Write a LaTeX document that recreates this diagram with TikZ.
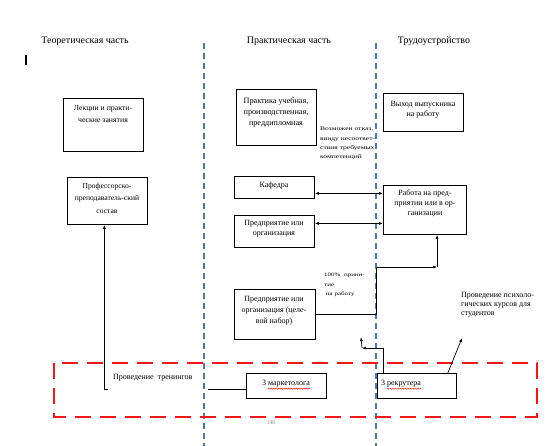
\documentclass[tikz,border=0pt]{standalone}
\usepackage{fontspec}
\setmainfont{Liberation Serif}
\newfontfamily\widefont[FakeStretch=1.35]{Liberation Serif}
\usetikzlibrary{arrows.meta,decorations.pathmorphing}
\definecolor{sepblue}{HTML}{56789E}
\definecolor{dred}{HTML}{F01818}
\definecolor{pgray}{HTML}{8A8A8A}
\begin{document}
\begin{tikzpicture}[x=1bp,y=-1bp,
  box/.style={draw, line width=0.8bp, inner sep=0, anchor=north west},
  head/.style={inner sep=0, font=\fontsize{10}{12}\selectfont},
  btxt/.style={align=center, inner sep=0, font=\fontsize{7.8}{12.5}\selectfont},
  ptxt/.style={align=center, inner sep=0, font=\fontsize{8}{10}\selectfont},
  stxt/.style={align=left, inner sep=0, font=\widefont\fontsize{5.6}{9.2}\selectfont},
  sep/.style={draw=sepblue, line width=1.2bp, dash pattern=on 6bp off 4bp},
  arr/.style={-{Latex[length=4bp,width=3bp]}, line width=0.7bp},
  darr/.style={{Latex[length=4bp,width=3bp]}-{Latex[length=4bp,width=3bp]}, line width=0.7bp},
  ln/.style={line width=0.7bp},
  squig/.style={draw=dred, line width=0.5bp, decorate, decoration={snake, amplitude=0.6bp, segment length=2.5bp}}]
\useasboundingbox (0,0) rectangle (547,446);
\fill[white] (0,0) rectangle (547,446);

% headers
\node[head] (h1) at (85,41) {Теоретическая часть};
\node[head] (h2) at (289,41) {Практическая часть};
\node[head] (h3) at (434,41) {Трудоустройство};
\draw[line width=1.3bp] (26,55) -- (26,65);

% separators
\draw[sep] (204,43) -- (204,446);
\draw[sep] (376,43) -- (376,446);

% red dashed frame
\draw[dred, line width=2.6bp, dash pattern=on 16bp off 9bp] (54,363) rectangle (537,417);

% boxes
\node[box, minimum width=80bp, minimum height=53bp] (lek) at (63,98) {};
\node[box, minimum width=80bp, minimum height=47bp] (prof) at (67,177) {};
\node[box, minimum width=80bp, minimum height=56bp] (prak) at (236,89) {};
\node[box, minimum width=80bp, minimum height=38bp] (vyh) at (383,93) {};
\node[box, minimum width=80bp, minimum height=22bp] (kaf) at (234,176) {};
\node[box, minimum width=80bp, minimum height=32bp] (pred) at (234,215) {};
\node[box, minimum width=83bp, minimum height=49bp] (rab) at (383,185) {};
\node[box, minimum width=81bp, minimum height=50bp] (cel) at (234,289) {};
\node[box, minimum width=80bp, minimum height=25bp] (mk) at (246,373) {};
\node[box, minimum width=79bp, minimum height=25bp] (rek) at (377,373) {};

% box texts
\node[btxt] (lekT) at (103,114) {Лекции и практи-\\ческие занятия};
\node[btxt, font=\fontsize{7.6}{12.5}\selectfont] (profT) at (107,198) {Профессорско-\\преподаватель-ский\\состав};
\node[ptxt, font=\fontsize{8.2}{11}\selectfont] (prakT) at (276,112) {Практика учебная,\\производственная,\\преддипломная};
\node[ptxt] (vyhT) at (423,110) {Выход выпускника\\на работу};
\node[ptxt] (kafT) at (274,186) {Кафедра};
\node[ptxt] (predT) at (274,229) {Предприятие или\\организация};
\node[ptxt] (rabT) at (425,203) {Работа на пред-\\приятии или в ор-\\ганизации};
\node[ptxt, font=\fontsize{8}{11}\selectfont] (celT) at (274,311) {Предприятие или\\организация (целе-\\вой набор)};
\node[ptxt] (mkT) at (286,384) {3 маркетолога};
\node[ptxt, anchor=west] (rekT) at (381,384) {3 рекрутера};
\draw[squig] ([xshift=6bp,yshift=-1bp]mkT.south west) -- ([yshift=-1bp]mkT.south east);
\draw[squig] ([xshift=6bp,yshift=-1bp]rekT.south west) -- ([yshift=-1bp]rekT.south east);

% free texts
\node[stxt, anchor=north west] (otk) at (320,127) {Возможен отказ,\\ввиду несоответ-\\ствия требуемых\\компетенций};
\node[stxt, font=\widefont\fontsize{5.2}{9.4}\selectfont, anchor=north west] (pr100) at (324,273) {100\%\ \ прини-\\тие\\\ на работу};
\node[align=left, inner sep=0, font=\fontsize{8}{9.2}\selectfont, anchor=north west] (psy) at (461,292) {Проведение психоло-\\гических курсов для\\студентов};
\node[inner sep=0, font=\fontsize{8}{9}\selectfont, anchor=west] (tren) at (113,378) {Проведение\ \ тренингов};
\node[inner sep=0, text=pgray, font=\fontsize{6}{7}\selectfont] (pnum) at (271,423) {140};

% connectors
\coordinate (trB) at (108,389);
\draw[arr] (trB) -| ([xshift=-3bp]prof.south);
\draw[darr] ([yshift=-6bp]kaf.east) -- ([yshift=-6bp]kaf.east -| rab.west);
\draw[darr] ([yshift=8bp]pred.east) -- ([yshift=8bp]pred.east -| rab.west);
\coordinate (jc) at (376,267);
\coordinate (jr) at (437,267);
\draw[arr] (cel.east) -| (jc) -- (jr);
\draw[arr] (jr) -- (jr |- rab.south);
\coordinate (kk) at (362,348);
\draw[arr] ([xshift=6bp]rek.north west) |- (kk);
\draw[arr] (kk) -- ++(-1,-11);
\coordinate (psyA) at (462,338);
\draw[arr] ([xshift=-9bp]rek.north east) -- (psyA);
\coordinate (mfree) at (208,389);
\draw[ln] (mfree) -- (mfree -| mk.west);
\end{tikzpicture}
\end{document}
